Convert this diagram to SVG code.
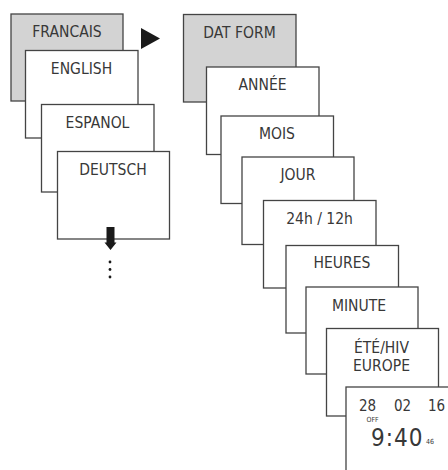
<svg xmlns="http://www.w3.org/2000/svg" width="448" height="470" viewBox="0 0 448 470">
<style>
.box{fill:#fff;stroke:#444;stroke-width:1.3}
.gray{fill:#d3d3d3}
text{font-family:"DejaVu Sans Condensed","DejaVu Sans",sans-serif;font-stretch:condensed;font-size:15.5px;fill:#383838;text-anchor:middle}
.num{font-size:15px;text-anchor:start}
.small{font-size:7px;text-anchor:start}
.big{font-size:24px;text-anchor:start;letter-spacing:1px}
</style>
<rect width="448" height="470" fill="#fff"/>
<g id="francais"><rect class="box gray" x="11" y="14" width="112" height="87"/><text x="67" y="37">FRANCAIS</text></g>
<g id="english"><rect class="box" x="25.5" y="50.5" width="112.5" height="87.5"/><text x="81.5" y="74">ENGLISH</text></g>
<g id="espanol"><rect class="box" x="41.5" y="104.5" width="112.5" height="87.5"/><text x="97.5" y="128">ESPANOL</text></g>
<g id="deutsch"><rect class="box" x="57.5" y="151.5" width="112" height="87.5"/><text x="113" y="175">DEUTSCH</text></g>
<g id="connectors">
<path d="M141 28 L160 38.5 L141 49 Z" fill="#1a1a1a"/>
<path d="M106.5 227 H114.5 V242.5 H116.5 L110.5 250 L104.5 242.5 H106.5 Z" fill="#1a1a1a"/>
<circle cx="110" cy="262" r="1.4" fill="#1a1a1a"/>
<circle cx="110" cy="269.5" r="1.4" fill="#1a1a1a"/>
<circle cx="110" cy="277" r="1.4" fill="#1a1a1a"/>
</g>
<g id="datform"><rect class="box gray" x="183.5" y="14.5" width="112.5" height="87.5"/><text x="239.5" y="37.5">DAT FORM</text></g>
<g id="annee"><rect class="box" x="206.5" y="67" width="112.5" height="87.5"/><text x="262.5" y="90">ANNÉE</text></g>
<g id="mois"><rect class="box" x="221" y="116" width="112.5" height="87.5"/><text x="277" y="139">MOIS</text></g>
<g id="jour"><rect class="box" x="242" y="157" width="112" height="87.5"/><text x="298" y="180">JOUR</text></g>
<g id="format24"><rect class="box" x="263.5" y="200.5" width="112.5" height="87.5"/><text x="319.5" y="224">24h / 12h</text></g>
<g id="heures"><rect class="box" x="286" y="245.5" width="112.5" height="87.5"/><text x="342" y="268">HEURES</text></g>
<g id="minute"><rect class="box" x="306" y="287" width="112" height="87"/><text x="359" y="311">MINUTE</text></g>
<g id="etehiv"><rect class="box" x="326.5" y="328.5" width="112" height="87.5"/><text x="381.5" y="353">ÉTÉ/HIV</text><text x="381.5" y="371">EUROPE</text></g>
<g id="display"><rect class="box" x="346" y="387" width="112" height="90"/>
<text class="num" x="359" y="411">28</text>
<text class="num" x="394" y="411">02</text>
<text class="num" x="428" y="411">16</text>
<text class="small" x="366.5" y="421.5">OFF</text>
<text class="big" x="371" y="446">9:40</text>
<text class="small" x="426" y="444">46</text>
</g>
</svg>
